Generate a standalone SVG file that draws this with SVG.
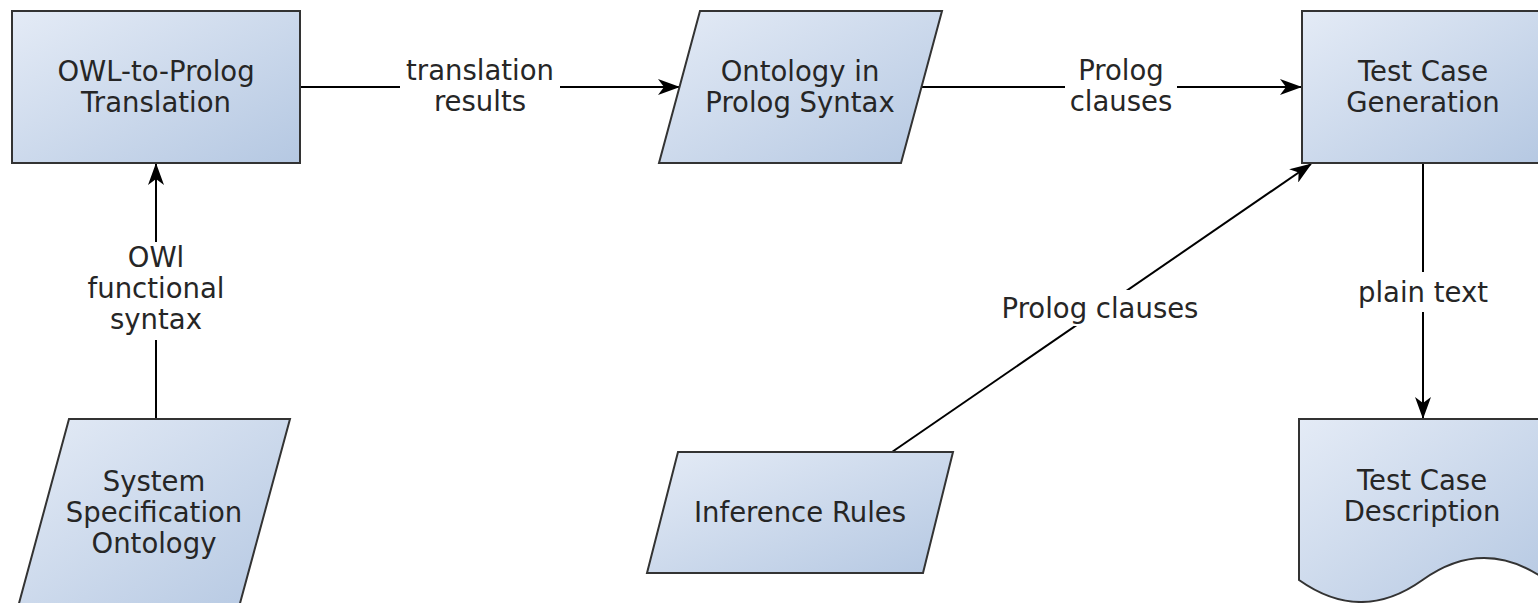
<svg xmlns="http://www.w3.org/2000/svg" width="1538" height="603" viewBox="0 0 1538 603">
<defs>
<linearGradient id="g" x1="0" y1="0" x2="1" y2="1">
<stop offset="0" stop-color="#e4ebf6"/>
<stop offset="1" stop-color="#b5c8e2"/>
</linearGradient>
<marker id="arr" viewBox="0 0 22 16" refX="21" refY="8" markerWidth="22" markerHeight="16" markerUnits="userSpaceOnUse" orient="auto">
<path d="M0,0 L22,8 L0,16 L6,8 Z" fill="#000"/>
</marker>
<style>
.shape{fill:url(#g);stroke:#333;stroke-width:2}
.t{font-family:"DejaVu Sans","Verdana",sans-serif;font-size:27.5px;fill:#262626;text-anchor:middle}
.edge{fill:none;stroke:#000;stroke-width:2}
.bg{fill:#fff}
</style>
</defs>
<rect width="1538" height="603" fill="#fff"/>
<g id="connectors">
<line class="edge" x1="300" y1="87" x2="679" y2="87" marker-end="url(#arr)"/>
<line class="edge" x1="921" y1="87" x2="1301" y2="87" marker-end="url(#arr)"/>
<line class="edge" x1="156" y1="419" x2="156" y2="164" marker-end="url(#arr)"/>
<line class="edge" x1="892" y1="452" x2="1311" y2="164" marker-end="url(#arr)"/>
<line class="edge" x1="1423" y1="163" x2="1423" y2="418" marker-end="url(#arr)"/>
<rect class="bg" x="400" y="55" width="160" height="64"/>
<text class="t" x="480" y="80">translation</text>
<text class="t" x="480" y="111">results</text>
<rect class="bg" x="1065" y="55" width="112" height="64"/>
<text class="t" x="1121" y="80">Prolog</text>
<text class="t" x="1121" y="111">clauses</text>
<rect class="bg" x="102" y="242" width="108" height="98"/>
<text class="t" x="156" y="267">OWl</text>
<text class="t" x="156" y="298">functional</text>
<text class="t" x="156" y="329">syntax</text>
<rect class="bg" x="995" y="290" width="210" height="36"/>
<text class="t" x="1100" y="318">Prolog clauses</text>
<rect class="bg" x="1353" y="272" width="140" height="40"/>
<text class="t" x="1423" y="302">plain text</text>
</g>
<g id="owl-to-prolog">
<rect class="shape" x="12" y="11" width="288" height="152"/>
<text class="t" x="156" y="81">OWL-to-Prolog</text>
<text class="t" x="156" y="112">Translation</text>
</g>
<g id="ontology-prolog">
<polygon class="shape" points="700,11 942,11 901,163 659,163"/>
<text class="t" x="800" y="81">Ontology in</text>
<text class="t" x="800" y="112">Prolog Syntax</text>
</g>
<g id="test-case-generation">
<rect class="shape" x="1302" y="11" width="244" height="152"/>
<text class="t" x="1423" y="81">Test Case</text>
<text class="t" x="1423" y="112">Generation</text>
</g>
<g id="system-spec">
<polygon class="shape" points="69,419 290,419 239,607 18,607"/>
<text class="t" x="154" y="491">System</text>
<text class="t" x="154" y="522">Specification</text>
<text class="t" x="154" y="553">Ontology</text>
</g>
<g id="inference-rules">
<polygon class="shape" points="678,452 953,452 923,573 647,573"/>
<text class="t" x="800" y="522">Inference Rules</text>
</g>
<g id="test-case-description">
<path class="shape" d="M1299,419 H1546 V580 Q1484,536 1422.5,580 Q1361,624 1299,580 Z"/>
<text class="t" x="1422" y="490">Test Case</text>
<text class="t" x="1422" y="521">Description</text>
</g>
</svg>
